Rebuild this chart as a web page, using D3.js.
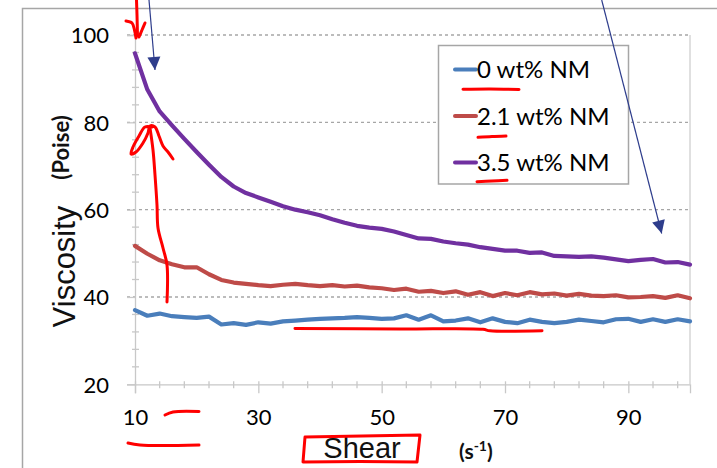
<!DOCTYPE html>
<html><head><meta charset="utf-8">
<script src="https://cdn.jsdelivr.net/npm/d3@7"></script>
<style>html,body{margin:0;padding:0;background:#fff;}svg{display:block;}</style>
</head><body>
<svg id="c" width="717" height="468"></svg>
<script>
const shear = [10,12,14,16,18,20,22,24,26,28,30,32,34,36,38,40,42,44,46,48,50,52,54,56,58,60,62,64,66,68,70,72,74,76,78,80,82,84,86,88,90,92,94,96,98,100];
const nm0  = [37.0,35.7,36.2,35.6,35.4,35.2,35.5,33.7,34.0,33.6,34.2,33.9,34.4,34.6,34.8,35.0,35.1,35.2,35.4,35.2,35.0,35.1,35.8,34.8,35.8,34.4,34.6,35.1,34.2,35.1,34.3,34.0,34.8,34.3,34.0,34.3,34.8,34.5,34.2,34.9,35.0,34.3,34.9,34.3,34.9,34.4];
const nm21 = [51.7,49.9,48.4,47.5,46.8,46.8,45.2,43.9,43.3,43.0,42.7,42.5,42.8,43.0,42.7,42.5,42.7,42.4,42.6,42.2,42.0,41.6,41.9,41.2,41.4,40.9,41.3,40.5,41.1,40.2,40.9,40.4,41.1,40.6,40.8,40.3,40.7,40.3,40.2,40.4,39.9,40.0,40.2,39.8,40.4,39.7];
const nm35 = [95.8,87.5,82.5,79.3,76.2,73.2,70.3,67.5,65.3,63.8,62.8,61.8,60.8,60.0,59.4,58.7,57.8,57.0,56.3,55.9,55.6,55.0,54.2,53.4,53.3,52.7,52.3,52.0,51.4,51.0,50.6,50.6,50.1,50.2,49.4,49.3,49.2,49.3,49.0,48.6,48.2,48.5,48.7,47.9,48.0,47.4];
const seriesNames = ["0 wt% NM","2.1 wt% NM","3.5 wt% NM"];
const seriesColors = ["#4a7ebb","#be4b48","#7030a0"];
const xTickLabels = [10,30,50,70,90];
const yTickLabels = [20,40,60,80,100];
const yGrid = [40,60,80,100];

const svg = d3.select("#c");
const x = d3.scaleLinear().domain([10,100]).range([135,690]);
const y = d3.scaleLinear().domain([20,100]).range([384.3,35]);
const axisCol = "#c8c8c8";

// outer chart border
svg.append("path").attr("d","M22.5,468 L22.5,8.5 L717,8.5").attr("fill","none").attr("stroke","#a6a6a6").attr("stroke-width",1.5);

// gridlines
svg.append("g").selectAll("line").data(yGrid).join("line")
  .attr("x1",x(10)-8).attr("x2",x(100)).attr("y1",d=>y(d)).attr("y2",d=>y(d))
  .attr("stroke","#a6a6a6").attr("stroke-width",1.3).attr("stroke-dasharray","3,3");
// right border
svg.append("line").attr("x1",x(100)).attr("x2",x(100)).attr("y1",y(100)).attr("y2",y(20)).attr("stroke","#d0d0d0").attr("stroke-width",1.3);

// y axis
const yAxis = svg.append("g").attr("transform",`translate(${x(10)},0)`)
  .call(d3.axisLeft(y).tickValues(yTickLabels).tickSize(8).tickPadding(18));
yAxis.select(".domain").attr("stroke",axisCol).attr("stroke-width",1.3);
yAxis.selectAll(".tick line").attr("stroke",axisCol).attr("stroke-width",1.3);
yAxis.selectAll("text").attr("font-family","Lato").attr("font-size",22).attr("fill","#000").attr("dy","0.36em");
// y minor ticks
svg.append("g").selectAll("line").data(d3.range(24,100,4).filter(v=>v%20!==0)).join("line")
  .attr("x1",x(10)-3).attr("x2",x(10)+4).attr("y1",d=>y(d)).attr("y2",d=>y(d))
  .attr("stroke",axisCol).attr("stroke-width",1.3);

// x axis
const xAxis = svg.append("g").attr("transform",`translate(0,${y(20)})`)
  .call(d3.axisBottom(x).tickValues(xTickLabels).tickSize(9).tickPadding(32));
xAxis.select(".domain").attr("stroke",axisCol).attr("stroke-width",1.3);
xAxis.selectAll(".tick line").attr("stroke",axisCol).attr("stroke-width",1.3).attr("y1",-3);
xAxis.selectAll("text").attr("font-family","Lato").attr("font-size",22).attr("fill","#000").attr("dy","0");
svg.append("g").selectAll("line").data(d3.range(14,100,4).filter(v=>(v-10)%20!==0)).join("line")
  .attr("x1",d=>x(d)).attr("x2",d=>x(d)).attr("y1",y(20)-3).attr("y2",y(20)+4)
  .attr("stroke",axisCol).attr("stroke-width",1.3);

// data lines
const allSeries = [nm0,nm21,nm35];
const line = d3.line().x((d,i)=>x(shear[i])).y(d=>y(d)).curve(d3.curveLinear);
allSeries.forEach((s,k)=>{
  svg.append("path").datum(s).attr("d",line).attr("fill","none")
    .attr("stroke",seriesColors[k]).attr("stroke-width",4.2).attr("stroke-linejoin","round").attr("stroke-linecap","round");
});

// legend
svg.append("rect").attr("x",438.5).attr("y",45.5).attr("width",190).attr("height",138.5)
  .attr("fill","#fff").attr("stroke","#a6a6a6").attr("stroke-width",1.5);
const lg = svg.append("g");
seriesNames.forEach((n,k)=>{
  const cy = 69.5 + k*46.5;
  lg.append("line").attr("x1",455).attr("x2",476).attr("y1",cy).attr("y2",cy)
    .attr("stroke",seriesColors[k]).attr("stroke-width",4).attr("stroke-linecap","round");
  lg.append("text").attr("x",477).attr("y",cy+8.5).attr("font-family","Lato").attr("font-size",24).attr("fill","#000").text(n);
});

// axis titles
svg.append("text").attr("transform","translate(75,266.5) rotate(-90)").attr("text-anchor","middle")
  .attr("font-family","Liberation Sans").attr("font-size",31).attr("fill","#111").text("Viscosity");
svg.append("text").attr("transform","translate(69,147.5) rotate(-90)").attr("text-anchor","middle")
  .attr("font-family","Lato").attr("font-weight","bold").attr("font-size",22).attr("fill","#111").text("(Poise)");
svg.append("text").attr("x",362).attr("y",458).attr("text-anchor","middle")
  .attr("font-family","Liberation Sans").attr("font-size",29).attr("fill","#111").text("Shear");
const st = svg.append("text").attr("x",459).attr("y",459).attr("font-family","Lato").attr("font-weight","bold").attr("font-size",21).attr("fill","#111");
st.append("tspan").text("(s");
st.append("tspan").attr("dy",-8).attr("font-size",14).text("-1");
st.append("tspan").attr("dy",8).text(")");

// annotations: blue arrows
const navy = "#2e3d8c";
function arrow(x0,y0,x1,y1){
  svg.append("line").attr("x1",x0).attr("y1",y0).attr("x2",x1).attr("y2",y1).attr("stroke",navy).attr("stroke-width",1.2);
  const a = Math.atan2(y1-y0,x1-x0), L=13, W=6.5;
  const bx = x1-L*Math.cos(a), by = y1-L*Math.sin(a);
  const px = -Math.sin(a)*W, py = Math.cos(a)*W;
  svg.append("path").attr("d",`M${x1},${y1}L${bx+px},${by+py}L${bx-px},${by-py}Z`).attr("fill",navy);
}
arrow(149,0,155,70);
arrow(601.7,0,661.7,233.5);

// annotations: red handwriting
const red = "#ff0000";
const pen = d3.line().curve(d3.curveCatmullRom);
const penStraight = d3.line();
const marks = [
  [[136.5,0],[137,15],[137.5,36]],
  [[126,21],[132,23],[134.5,30],[136,38]],
  [[145,23],[142,30],[139,37]],
  [[167,302],[167,265],[163,248],[158,228],[157,205],[155,175],[153,150],[150,128]],
  [[152,127],[145,127],[139,136],[133,147],[131,154],[136,152],[143,143],[148,133],[150,126],[155,127],[159,136],[163,146],[168,152],[173,159]],
  [[463,89.3],[490,89],[519,89.5]],
  [[478,137.3],[492,136.5],[506,136]],
  [[477,181.7],[492,181],[507,180.3]],
  [[295,328.5],[400,329],[483,329.3],[490,330.8],[542,330.8]],
  [[165,415],[173,412],[199,411.5]],
  [[128,443],[140,445],[199,445]]
];
marks.forEach(m=>{
  svg.append("path").attr("d",pen(m)).attr("fill","none").attr("stroke",red).attr("stroke-width",3)
    .attr("stroke-linecap","round").attr("stroke-linejoin","round");
});
const box = [[305,437],[362,436],[420,435],[417,462],[360,461.5],[303,462],[305,437]];
svg.append("path").attr("d",penStraight(box)).attr("fill","none").attr("stroke",red).attr("stroke-width",3)
  .attr("stroke-linecap","round").attr("stroke-linejoin","round");
</script>
</body></html>
